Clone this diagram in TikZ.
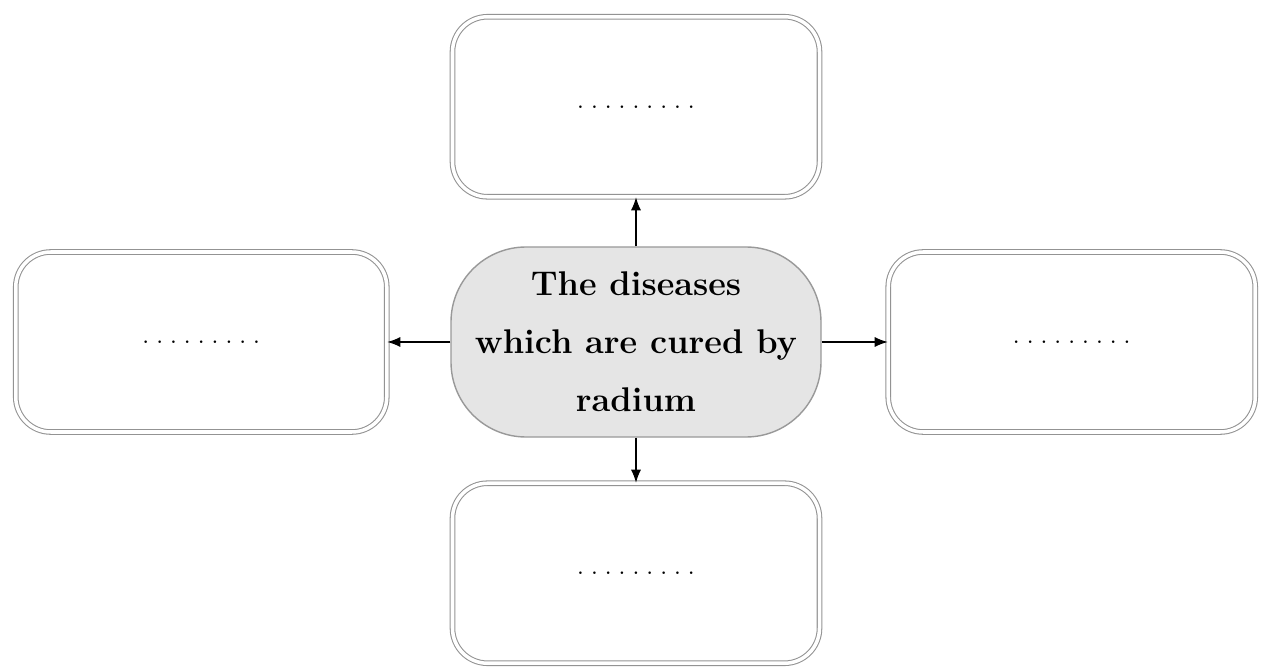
\documentclass[tikz,border=0pt]{standalone}
\usepackage{tikz}
\usetikzlibrary{arrows.meta,positioning}

\begin{document}
\begin{tikzpicture}[
  every node/.style={font=\fontsize{9.5}{12}\selectfont\bfseries},
  blank/.style ={draw=gray!85, double=white, double distance=2pt,
                 line width=0.6pt, rounded corners=0.7cm,
                 minimum width=7.34cm, minimum height=3.6cm, align=center},
  topic/.style ={draw=gray!80, thick, fill=black!10, rounded corners=1.5cm,
                 minimum width=7.4cm, minimum height=3.8cm, align=center,
                 font=\fontsize{19.5}{33}\selectfont\bfseries},
  arr/.style   ={-{Latex[length=2.6mm,width=2mm]}, semithick},
  node distance=1cm
]

\useasboundingbox (-12.72,6.84) rectangle (12.52,-6.56);

\node[topic] (main) {The diseases\\which are cured by\\radium};

% Surrounding boxes
\node[blank, above=0.98 of main]  (up)    {. . . . . . . . .};
\node[blank, left=1.26 of main, minimum width=7.42cm] (west) {. . . . . . . . .};
\node[blank, right=1.32 of main]  (east)  {. . . . . . . . .};
\node[blank, below=0.9 of main]   (down)  {. . . . . . . . .};

% Arrows
\draw[arr] (main) -- (up);
\draw[arr] (main) -- (west);
\draw[arr] (main) -- (east);
\draw[arr] (main) -- (down);

\end{tikzpicture}
\end{document}
